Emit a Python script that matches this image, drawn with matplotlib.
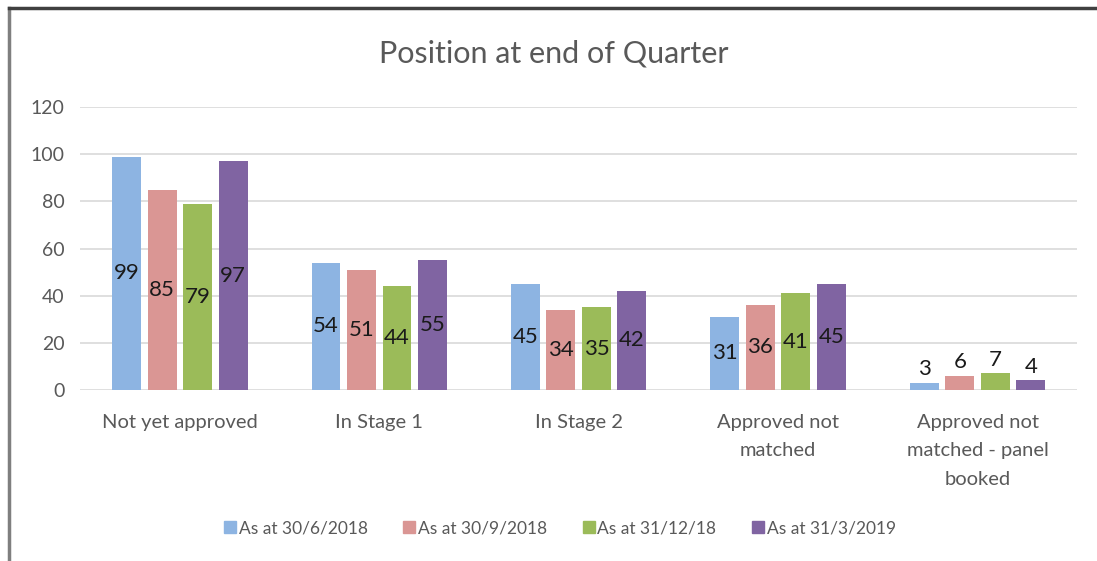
import matplotlib
matplotlib.use('Agg')
import matplotlib.pyplot as plt
from matplotlib.lines import Line2D
import numpy as np

plt.rcParams['font.family'] = ['Lato', 'DejaVu Sans']

# Dados
categories = ["Not yet approved", "In Stage 1", "In Stage 2",
              "Approved not\nmatched", "Approved not\nmatched - panel\nbooked"]
series_names = ["As at 30/6/2018", "As at 30/9/2018", "As at 31/12/18", "As at 31/3/2019"]
jun_2018 = [99, 54, 45, 31, 3]
sep_2018 = [85, 51, 34, 36, 6]
dec_2018 = [79, 44, 35, 41, 7]
mar_2019 = [97, 55, 42, 45, 4]
y_ticks = [0, 20, 40, 60, 80, 100, 120]

colors = ['#8db4e2', '#da9694', '#9bbb59', '#8064a2']
text_gray = '#595959'
series = [jun_2018, sep_2018, dec_2018, mar_2019]

fig = plt.figure(figsize=(10.97, 5.61), dpi=100)
ax = fig.add_axes([0.073, 0.305, 0.909, 0.504])

x = np.arange(len(categories))
width = 0.145
step = 0.178
offsets = (np.arange(len(series)) - 1.5) * step

for vals, off, c in zip(series, offsets, colors):
    bars = ax.bar(x + off, vals, width, color=c, zorder=3)
    for b, v in zip(bars, vals):
        cx = b.get_x() + b.get_width() / 2
        if v >= 10:
            ax.text(cx, v / 2, str(v), ha='center', va='center',
                    fontsize=16, color='#1a1a1a', zorder=4)
        else:
            ax.text(cx, v + 1.5, str(v), ha='center', va='bottom',
                    fontsize=16, color='#1a1a1a', zorder=4)

ax.set_ylim(0, 120)
ax.set_xlim(-0.5, len(categories) - 0.5)
ax.set_yticks(y_ticks)
ax.set_xticks(x)
ax.set_xticklabels(categories, linespacing=1.85)
ax.tick_params(axis='both', length=0, colors=text_gray, labelsize=14.5)
ax.tick_params(axis='y', labelsize=14, pad=11)
ax.tick_params(axis='x', pad=17)
ax.grid(axis='y', color='#d9d9d9', linewidth=1.2, zorder=0)
for s in ax.spines.values():
    s.set_visible(False)

fig.text(0.505, 0.905, "Position at end of Quarter", ha='center', va='center',
         fontsize=22, color=text_gray)

handles = [Line2D([], [], marker='s', linestyle='', markersize=8,
                  markerfacecolor=c, markeredgecolor=c) for c in colors]
fig.legend(handles, series_names, loc='center', bbox_to_anchor=(0.51, 0.058),
           ncol=4, frameon=False, fontsize=12.5, labelcolor=text_gray,
           handletextpad=0.1, columnspacing=2.0, handlelength=0.8)

# Moldura (esquerda e topo)
fig.add_artist(Line2D([0.008, 0.008], [0, 0.985], color='#7f7f7f', linewidth=2.5,
                      transform=fig.transFigure))
fig.add_artist(Line2D([0.008, 1], [0.985, 0.985], color='#404040', linewidth=2.5,
                      transform=fig.transFigure))

fig.savefig("out.png", dpi=100, facecolor='white')
plt.close()
